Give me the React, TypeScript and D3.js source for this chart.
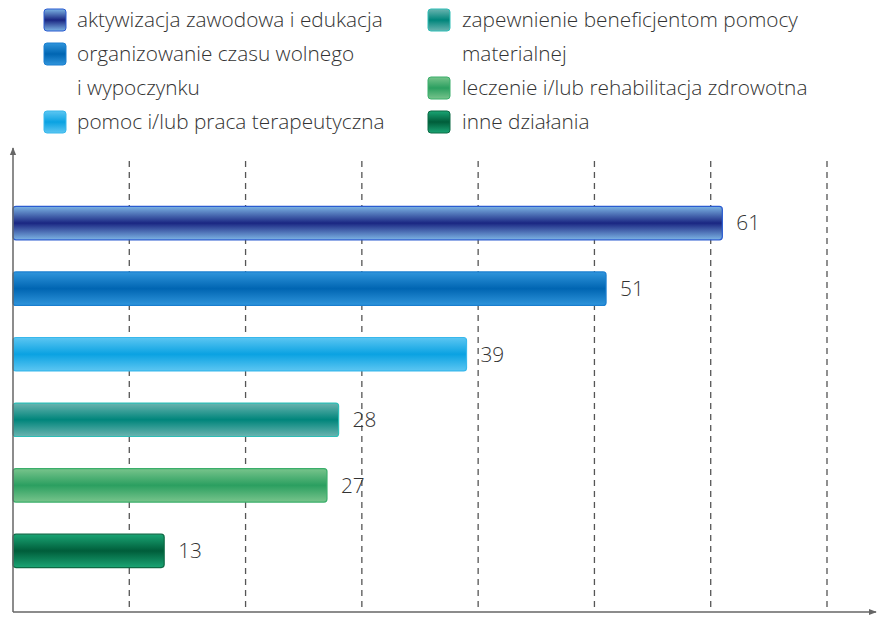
import React from "react";
import * as d3 from "d3";

const categories = [
  "aktywizacja zawodowa i edukacja",
  "organizowanie czasu wolnego i wypoczynku",
  "pomoc i/lub praca terapeutyczna",
  "zapewnienie beneficjentom pomocy materialnej",
  "leczenie i/lub rehabilitacja zdrowotna",
  "inne działania",
];
const values = [61, 51, 39, 28, 27, 13];
const xTicks = [10, 20, 30, 40, 50, 60, 70];

const legendLeft = [
  { idx: 0, lines: ["aktywizacja zawodowa i edukacja"] },
  { idx: 1, lines: ["organizowanie czasu wolnego", "i wypoczynku"] },
  { idx: 2, lines: ["pomoc i/lub praca terapeutyczna"] },
];
const legendRight = [
  { idx: 3, lines: ["zapewnienie beneficjentom pomocy", "materialnej"] },
  { idx: 4, lines: ["leczenie i/lub rehabilitacja zdrowotna"] },
  { idx: 5, lines: ["inne działania"] },
];

// [edge colour, center colour, stroke]
const palette = [
  ["#7cb4e4", "#1a2682", "#2a5bd0"],
  ["#2f95dc", "#0065b2", "#1a7fd0"],
  ["#5cc6f2", "#0aa2e2", "#38b8ec"],
  ["#6ab4b0", "#00857b", "#2ebdb6"],
  ["#78c48c", "#2b9f60", "#3aae6a"],
  ["#1aa574", "#005d3a", "#0d6b45"],
];

export default function App() {
  const W = 877, H = 618;
  const x0 = 13;
  const x = d3.scaleLinear().domain([0, 70]).range([x0, 827]);
  const y = d3.scaleBand<number>().domain(d3.range(values.length)).range([190, 584]).paddingInner(0.49).paddingOuter(0.25);
  const axisY = 612;
  const font = "'Open Sans', sans-serif";
  const textColor = "#333";
  const fs = 20.8;

  const legendRows = (items: typeof legendLeft, sx: number, tx: number) => {
    let row = 0;
    const out: JSX.Element[] = [];
    items.forEach((it) => {
      const cy = 20 + row * 34;
      out.push(
        <rect key={"s" + it.idx} x={sx} y={cy - 11} width={22} height={22} rx={3} fill={`url(#g${it.idx})`} stroke={palette[it.idx][2]} strokeWidth={1} />
      );
      it.lines.forEach((ln, li) => {
        out.push(
          <text key={"t" + it.idx + li} x={tx} y={20 + (row + li) * 34} dy="0.35em" fontSize={fs} fontWeight={300} fill={textColor} fontFamily={font}>{ln}</text>
        );
      });
      row += it.lines.length;
    });
    return out;
  };

  return (
    <svg width={W} height={H} style={{ position: "absolute", left: 0, top: 0, background: "#fff" }}>
      <defs>
        {palette.map((p, i) => (
          <linearGradient key={i} id={`g${i}`} x1="0" y1="0" x2="0" y2="1">
            <stop offset="0" stopColor={p[0]} />
            <stop offset="0.5" stopColor={p[1]} />
            <stop offset="1" stopColor={p[0]} />
          </linearGradient>
        ))}
        <marker id="arr" viewBox="0 0 10 10" refX="9" refY="5" markerWidth="8" markerHeight="8" orient="auto" markerUnits="userSpaceOnUse">
          <path d="M0,1 L10,5 L0,9 Z" fill="#666" />
        </marker>
      </defs>

      {legendRows(legendLeft, 44, 77)}
      {legendRows(legendRight, 428, 462)}

      {xTicks.map((t) => (
        <line key={t} x1={x(t)} x2={x(t)} y1={161} y2={axisY} stroke="#555" strokeWidth={1.3} strokeDasharray="6,5" />
      ))}

      {values.map((v, i) => (
        <g key={i}>
          <rect x={x0} y={y(i)!} width={x(v) - x0} height={y.bandwidth()} rx={3} fill={`url(#g${i})`} stroke={palette[i][2]} strokeWidth={1.2} />
          <text x={x(v) + 14} y={y(i)! + y.bandwidth() / 2} dy="0.35em" fontSize={fs} fontWeight={300} fill={textColor} fontFamily={font}>{v}</text>
        </g>
      ))}

      <line x1={x0} x2={x0} y1={axisY} y2={148} stroke="#666" strokeWidth={1.5} markerEnd="url(#arr)" />
      <line x1={x0} x2={876} y1={axisY} y2={axisY} stroke="#666" strokeWidth={1.5} markerEnd="url(#arr)" />
    </svg>
  );
}
